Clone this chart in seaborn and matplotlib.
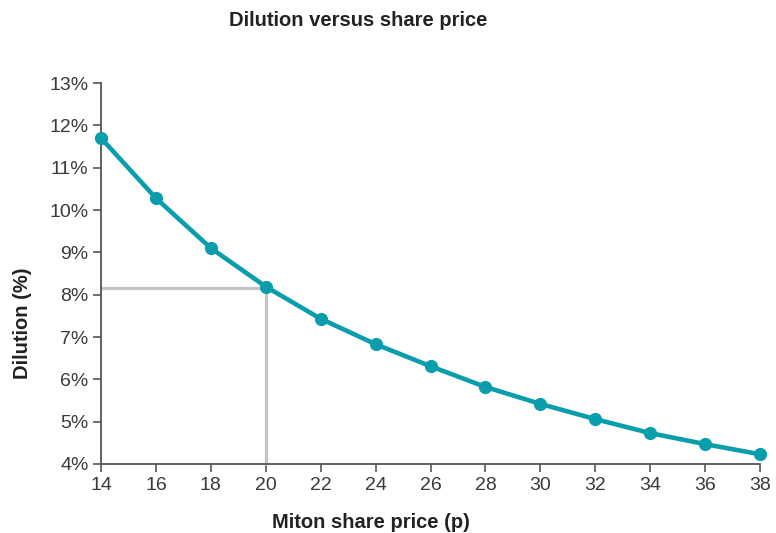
import matplotlib
matplotlib.use("Agg")
import matplotlib.pyplot as plt
import seaborn as sns
import pandas as pd

share_price = [14, 16, 18, 20, 22, 24, 26, 28, 30, 32, 34, 36, 38]
dilution = [11.70, 10.28, 9.10, 8.19, 7.43, 6.83, 6.31, 5.82, 5.42, 5.06, 4.73, 4.47, 4.23]
ref_price = 20
ref_dilution = 8.15
x_ticks = list(range(14, 39, 2))
y_ticks = list(range(4, 14))

sns.set_theme(style="white")
plt.rcParams['font.family'] = ['Liberation Sans', 'DejaVu Sans']

TEAL = "#0a9dab"
AXC = "#555555"
GREY = "#c4c4c4"

fig = plt.figure(figsize=(7.76, 5.33), dpi=100)
ax = fig.add_axes([101/776, 1-464/533, (760-101)/776, (464-83)/533])

df = pd.DataFrame({"price": share_price, "dilution": dilution})

ax.plot([share_price[0], ref_price], [ref_dilution, ref_dilution], color=GREY, lw=2.3, zorder=1, clip_on=False)
ax.plot([ref_price, ref_price], [y_ticks[0], ref_dilution], color=GREY, lw=2.3, zorder=1, clip_on=False)

sns.lineplot(data=df, x="price", y="dilution", ax=ax, color=TEAL, lw=3.3,
             marker="o", markersize=9.5, markeredgewidth=0, zorder=3, clip_on=False)

ax.set_xlim(14, 38)
ax.set_ylim(4, 13)
ax.set_xticks(x_ticks)
ax.set_xticklabels([str(v) for v in x_ticks])
ax.set_yticks(y_ticks)
ax.set_yticklabels([f"{v}%" for v in y_ticks])
ax.set_xlabel("")
ax.set_ylabel("")

for s in ["top", "right"]:
    ax.spines[s].set_visible(False)
for s in ["left", "bottom"]:
    ax.spines[s].set_color(AXC)
    ax.spines[s].set_linewidth(1.3)
ax.tick_params(axis="both", which="both", direction="out", length=6, width=1.2,
               color=AXC, labelsize=14, labelcolor="#3a3a3a", pad=3,
               left=True, bottom=True)

fig.text(358/776, 1-21/533, "Dilution versus share price", ha="center", va="center",
         fontsize=14.5, fontweight="bold", color="#222222")
fig.text(371/776, 1-522/533, "Miton share price (p)", ha="center", va="center",
         fontsize=14.5, fontweight="bold", color="#222222")
fig.text(23/776, 1-323/533, "Dilution (%)", ha="center", va="center", rotation=90,
         fontsize=14.5, fontweight="bold", color="#222222")

fig.savefig("out.png", dpi=100)
